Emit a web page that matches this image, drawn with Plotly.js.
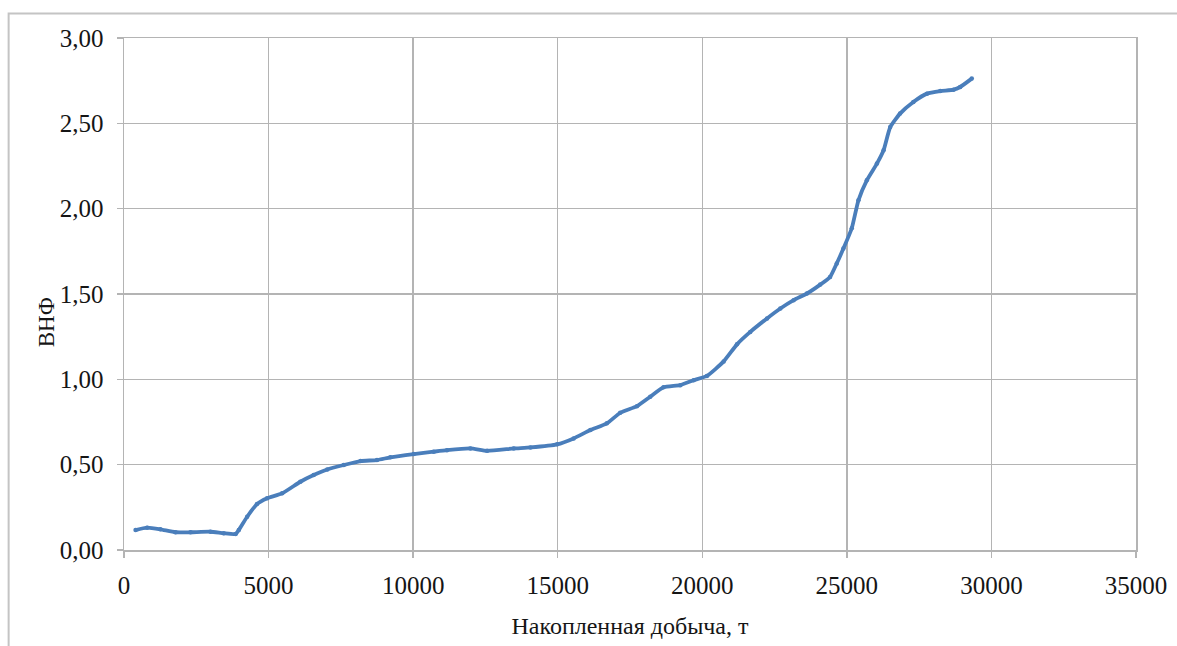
<!DOCTYPE html>
<html>
<head>
<meta charset="utf-8">
<script src="https://cdn.plot.ly/plotly-3.0.1.min.js"></script>
<style>
html, body { margin: 0; padding: 0; background: #ffffff; }
#chart { width: 1177px; height: 646px; }
</style>
</head>
<body>
<div id="chart"></div>
<script>
// Cumulative production, t
var production = [400, 800, 1260, 1780, 2300, 2990, 3450, 3860, 3970, 4260, 4600, 4950, 5470, 6100, 6560, 7030, 7600, 8180, 8750, 9210, 10020, 10710, 11170, 11980, 12560, 13480, 14060, 14980, 15550, 16130, 16700, 17160, 17740, 18200, 18660, 19240, 19700, 20160, 20740, 21200, 21660, 22240, 22700, 23160, 23620, 24080, 24420, 24650, 24880, 25170, 25400, 25690, 26040, 26270, 26500, 26840, 27300, 27770, 28230, 28690, 28920, 29320];
// Water-oil ratio (ВНФ)
var wor = [0.117, 0.131, 0.121, 0.104, 0.104, 0.107, 0.098, 0.094, 0.117, 0.195, 0.269, 0.303, 0.332, 0.400, 0.439, 0.472, 0.498, 0.521, 0.527, 0.543, 0.562, 0.576, 0.585, 0.595, 0.581, 0.595, 0.601, 0.619, 0.654, 0.703, 0.742, 0.804, 0.843, 0.898, 0.953, 0.966, 0.995, 1.020, 1.105, 1.205, 1.278, 1.357, 1.415, 1.464, 1.503, 1.555, 1.600, 1.679, 1.766, 1.885, 2.049, 2.166, 2.264, 2.342, 2.478, 2.557, 2.625, 2.674, 2.689, 2.697, 2.713, 2.762];
var xTicks = [0, 5000, 10000, 15000, 20000, 25000, 30000, 35000];
var yTicks = [0, 0.5, 1.0, 1.5, 2.0, 2.5, 3.0];
var xTitle = 'Накопленная добыча, т';
var yTitle = 'ВНФ';

var gridColor = '#b4b4b4';
var fontFam = 'Times New Roman, Liberation Serif, DejaVu Serif, serif';
var textColor = '#151515';

var trace = {
  x: production,
  y: wor,
  type: 'scatter',
  mode: 'lines+markers',
  line: { color: '#4a7ebb', width: 3.8, shape: 'spline', smoothing: 0.5 },
  marker: { color: '#4a7ebb', size: 4.5 },
  showlegend: false,
  hoverinfo: 'x+y'
};

var layout = {
  width: 1177,
  height: 646,
  margin: { l: 123.5, r: 41, t: 37.7, b: 96, pad: 0 },
  paper_bgcolor: '#ffffff',
  plot_bgcolor: '#ffffff',
  separators: ', ',
  font: { family: fontFam, size: 23, color: textColor },
  xaxis: {
    range: [0, 35000],
    tickvals: xTicks,
    tickformat: 'd',
    showgrid: true,
    gridcolor: gridColor,
    gridwidth: 1.5,
    showline: true,
    mirror: true,
    linecolor: gridColor,
    linewidth: 1.5,
    ticks: 'outside',
    ticklen: 6,
    tickwidth: 1.5,
    tickcolor: gridColor,
    ticklabelstandoff: 6,
    zeroline: false,
    tickfont: { family: fontFam, size: 25, color: textColor },
    title: { text: xTitle, font: { family: fontFam, size: 24, color: textColor }, standoff: 19 }
  },
  yaxis: {
    range: [0, 3],
    tickvals: yTicks,
    tickformat: '.2f',
    showgrid: true,
    gridcolor: gridColor,
    gridwidth: 1.5,
    showline: true,
    mirror: true,
    linecolor: gridColor,
    linewidth: 1.5,
    ticks: 'outside',
    ticklen: 6,
    tickwidth: 1.5,
    tickcolor: gridColor,
    ticklabelstandoff: 8,
    zeroline: false,
    tickfont: { family: fontFam, size: 25, color: textColor }
  },
  annotations: [{
    text: yTitle,
    xref: 'paper', yref: 'paper',
    x: -0.077, y: 0.445,
    xanchor: 'center', yanchor: 'middle',
    textangle: -90,
    showarrow: false,
    font: { family: fontFam, size: 23, color: textColor }
  }],
  shapes: [{
    type: 'path',
    xref: 'paper', yref: 'paper',
    path: 'M -0.114 -0.2 L -0.114 1.048 L 1.05 1.048',
    line: { color: '#c4c4c4', width: 2 },
    layer: 'below'
  }]
};

Plotly.newPlot('chart', [trace], layout, { displayModeBar: false, staticPlot: true });
</script>
</body>
</html>
